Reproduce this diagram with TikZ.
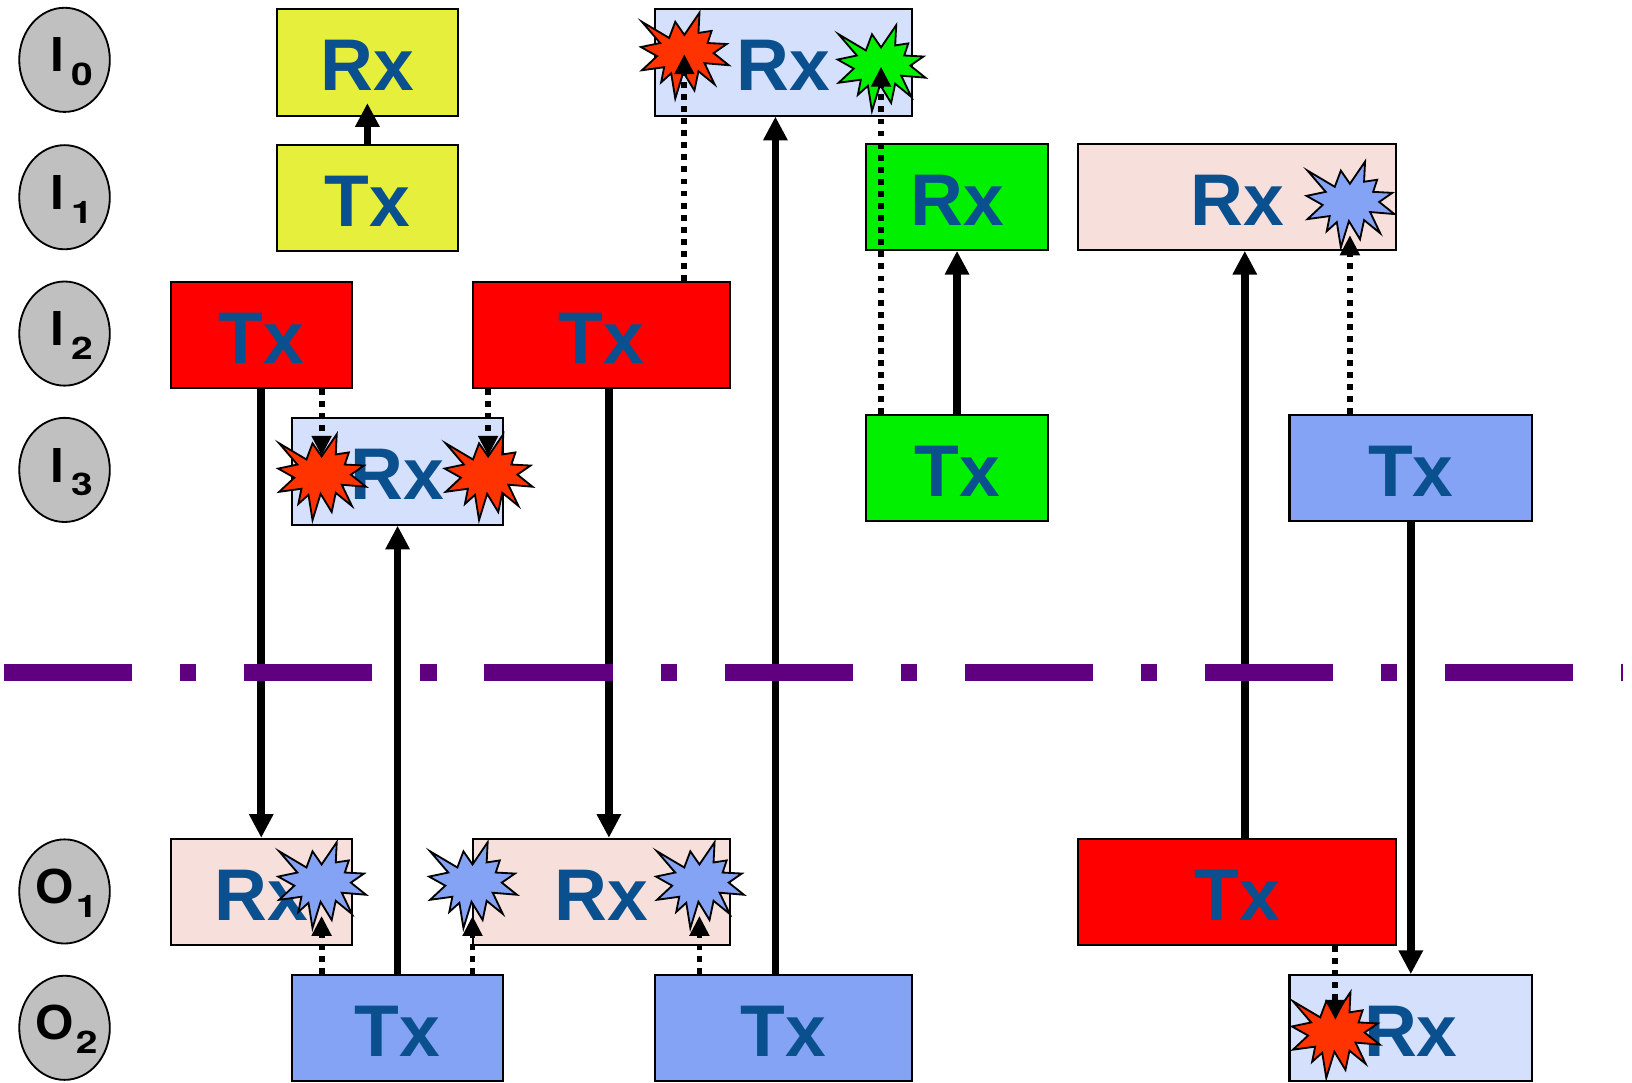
\documentclass[tikz,border=0pt]{standalone}
\usepackage{fontspec}
\setmainfont{Liberation Sans}
\newfontfamily\subfont{TeX Gyre Heros}
\usetikzlibrary{shapes.geometric}
\usetikzlibrary{arrows.meta, positioning}

\definecolor{boxtext}{RGB}{10,80,143}
\definecolor{labelgray}{RGB}{192,192,192}
\definecolor{yellowbox}{RGB}{230,240,60}
\definecolor{greenbox}{RGB}{0,240,0}
\definecolor{bluebox}{RGB}{133,163,245}
\definecolor{lightbox}{RGB}{212,224,252}
\definecolor{pinkbox}{RGB}{247,224,220}
\definecolor{hitred}{RGB}{255,51,0}
\definecolor{midline}{RGB}{96,0,128}

\newcommand{\portlabel}[3]{\makebox[0pt]{\hspace*{#3}#1\hspace{1.8pt}\raisebox{-3.8pt}{\fontsize{8.5}{8.5}\subfont\bfseries\scalebox{1.25}[1]{#2}}}}

\tikzset{
  unitbox/.style={draw, line width=0.55pt, inner sep=0pt, minimum height=1.02cm, text=boxtext,
    font=\fontsize{20}{24}\selectfont\bfseries, text height=15.5pt, text depth=0pt},
  portnode/.style={draw, ellipse, fill=labelgray, line width=0.5pt, inner sep=0pt, minimum width=0.87cm,
    minimum height=1cm, font=\fontsize{13.5}{15}\selectfont\bfseries, text height=10.6pt, text depth=4pt},
  solidarrow/.style={line width=2.05pt, -{Triangle[length=6.5pt,width=6.3pt]}},
  dotarrow/.style={line width=1.6pt, dash pattern=on 1.6pt off 1.7pt, -{Triangle[length=5.5pt,width=5.2pt]}},
  pics/burst/.style={code={
    \draw[line width=0.5pt, fill=#1, scale=0.97] (-42,-32) -- (-15,-16) -- (-9,-32) -- (0,-19) -- (15,-41) -- (14,-21)
      -- (27,-23) -- (23,-11) -- (42,-10) -- (29,-1) -- (44,11) -- (20,9) -- (30,30) -- (14,17) -- (10,36)
      -- (-1,18) -- (-9,44) -- (-13,19) -- (-23,28) -- (-20,13) -- (-42,16) -- (-27,2) -- (-43,-7) -- (-24,-11) -- cycle;
  }}
}

\begin{document}
\begin{tikzpicture}[x=0.01cm, y=-0.01cm]
\useasboundingbox (0,0) rectangle (1568,1040);

% Draw port labels
\node[portnode] (portA) at (62,57.5) {\portlabel{I}{0}{4pt}};
\node[portnode] (portB) at (62,189.5) {\portlabel{I}{1}{4pt}};
\node[portnode] (portC) at (62,320.5) {\portlabel{I}{2}{4pt}};
\node[portnode] (portD) at (62,451.5) {\portlabel{I}{3}{4pt}};
\node[portnode] (portE) at (62,856.5) {\portlabel{O\kern-1.2pt}{1}{1pt}};
\node[portnode] (portF) at (62,987.5) {\portlabel{O\kern-1.2pt}{2}{1pt}};

% Draw top half boxes
\node[unitbox, fill=yellowbox, minimum width=1.74cm] (rxYellow) at (353,60) {Rx};
\node[unitbox, fill=yellowbox, minimum width=1.74cm] (txYellow) at (353,190.5) {Tx};
\node[unitbox, fill=red, minimum width=1.74cm] (txRedA) at (251,322) {Tx};
\node[unitbox, fill=red, minimum width=2.47cm] (txRedB) at (578,322) {Tx};
\node[unitbox, fill=lightbox, minimum width=2.03cm] (rxLightA) at (382,453) {Rx};
\node[unitbox, fill=lightbox, minimum width=2.47cm] (rxLightB) at (752.5,60) {Rx};
\node[unitbox, fill=greenbox, minimum width=1.74cm] (rxGreen) at (919.5,189) {Rx};
\node[unitbox, fill=pinkbox, minimum width=3.05cm] (rxPinkC) at (1188.5,189) {Rx};
\node[unitbox, fill=greenbox, minimum width=1.74cm] (txGreen) at (919.5,450) {Tx};
\node[unitbox, fill=bluebox, minimum width=2.33cm] (txBlueC) at (1355.5,450) {Tx};

% Draw bottom half boxes
\node[unitbox, fill=pinkbox, minimum width=1.74cm] (rxPinkA) at (251,857) {Rx};
\node[unitbox, fill=pinkbox, minimum width=2.47cm] (rxPinkB) at (578,857) {Rx};
\node[unitbox, fill=red, minimum width=3.05cm] (txRedC) at (1188.5,857) {Tx};
\node[unitbox, fill=bluebox, minimum width=2.03cm] (txBlueA) at (382,988) {Tx};
\node[unitbox, fill=bluebox, minimum width=2.47cm] (txBlueB) at (752.5,988) {Tx};
\node[unitbox, fill=lightbox, minimum width=2.33cm] (rxLightC) at (1355.5,988) {Rx};

% Draw collisions
\coordinate (hitA) at (309,457);
\coordinate (hitB) at (469,457);
\coordinate (hitC) at (657.5,52);
\coordinate (hitD) at (846.5,64);
\coordinate (hitE) at (1297,195);
\coordinate (hitF) at (309,849);
\coordinate (hitG) at (454,849);
\coordinate (hitH) at (672,849);
\coordinate (hitI) at (1283,993);
\pic at (hitA) {burst=hitred};
\pic at (hitB) {burst=hitred};
\pic at (hitC) {burst=hitred};
\pic at (hitD) {burst=greenbox};
\pic at (hitE) {burst=bluebox};
\pic at (hitF) {burst=bluebox};
\pic at (hitG) {burst=bluebox};
\pic at (hitH) {burst=bluebox};
\pic at (hitI) {burst=hitred};

% Draw wanted signals
\draw[solidarrow, shorten >=-3.7pt] (txYellow.north) -- (rxYellow.south);
\draw[solidarrow] (txRedA.south) -- (rxPinkA.north);
\draw[solidarrow] ([xshift=2pt]txRedB.south) -- ([xshift=2pt]rxPinkB.north);
\draw[solidarrow] (txBlueA.north) -- (rxLightA.south);
\draw[solidarrow] ([xshift=-2.13pt]txBlueB.north) -- ([xshift=-2.13pt]rxLightB.south);
\draw[solidarrow] (txGreen.north) -- (rxGreen.south);
\draw[solidarrow] ([xshift=2.13pt]txRedC.north) -- ([xshift=2.13pt]rxPinkC.south);
\draw[solidarrow] (txBlueC.south) -- (rxLightC.north);

% Draw interference
\draw[dotarrow] (txRedA.south -| hitA) -- ([yshift=5.4pt]hitA);
\draw[dotarrow] (txRedB.south -| hitB) -- ([yshift=5.4pt]hitB);
\draw[dotarrow] (txRedB.north -| hitC) -- (hitC);
\draw[dotarrow] (txGreen.north -| hitD) -- (hitD);
\draw[dotarrow] (txBlueC.north -| hitE) -- ([yshift=-8.8pt]hitE);
\draw[dotarrow] (txBlueA.north -| hitF) -- ([yshift=-8.8pt]hitF);
\draw[dotarrow] (txBlueA.north -| hitG) -- ([yshift=-8.8pt]hitG);
\draw[dotarrow] (txBlueB.north -| hitH) -- ([yshift=-8.8pt]hitH);
\draw[dotarrow] (txRedC.south -| hitI) -- ([yshift=3.7pt]hitI);

% Draw dash-dot divider
\coordinate (lineL) at (4,646);
\coordinate (lineR) at (1559,646);
\draw[midline, line width=4.5pt, dash pattern=on 35pt off 13.1pt on 4.41pt off 13.1pt] (lineL) -- (lineR);

\end{tikzpicture}
\end{document}
